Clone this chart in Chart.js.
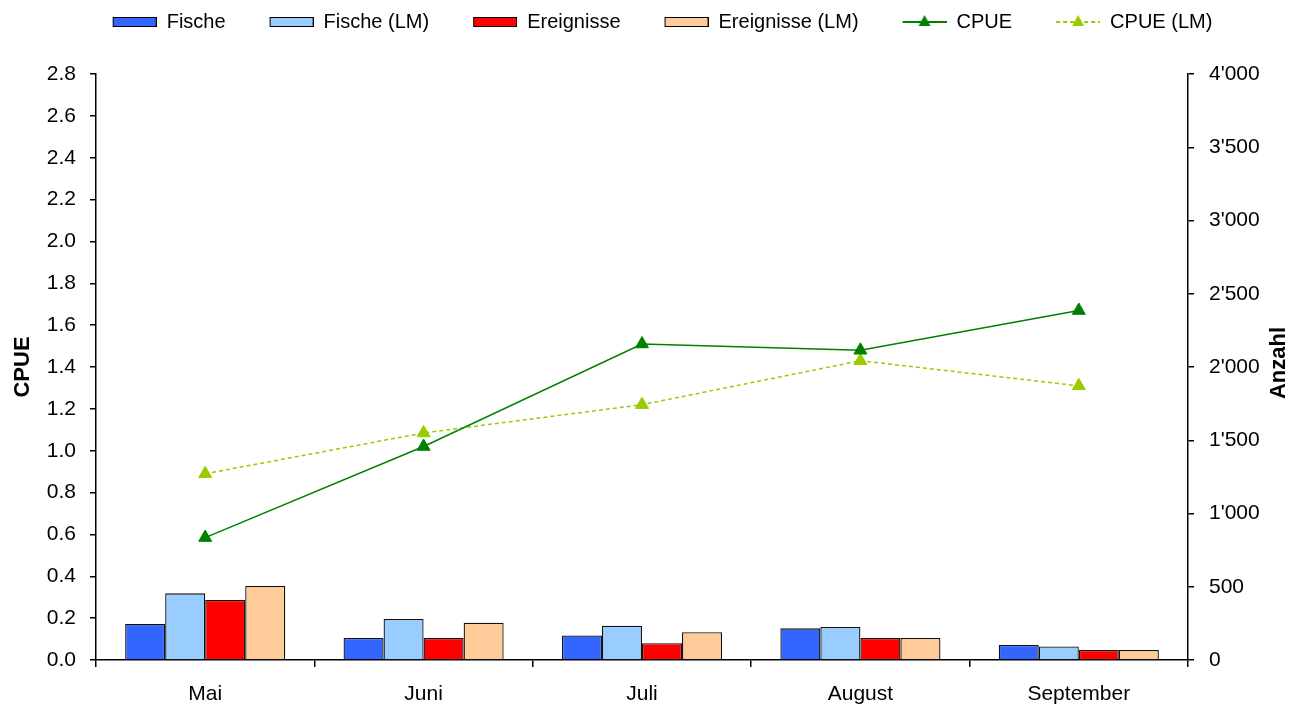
<!DOCTYPE html>
<html>
<head>
<meta charset="utf-8">
<script src="https://cdn.jsdelivr.net/npm/chart.js@4"></script>
<style>
    body { margin: 0; background: #fff; }
    #wrap { width: 1293px; height: 704px; }
</style>
</head>
<body>
<div id="wrap"><canvas id="graph1"></canvas></div>
<script>
// values
const months = ['Mai', 'Juni', 'Juli', 'August', 'September'];
const fische = [245, 150, 168, 216, 102];          // Anzahl (right axis)
const fischeLM = [455, 280, 234, 225, 93];
const ereignisse = [410, 150, 114, 150, 68];
const ereignisseLM = [505, 255, 189, 150, 68];
const cpue = [0.585, 1.02, 1.51, 1.48, 1.67];      // CPUE (left axis)
const cpueLM = [0.89, 1.085, 1.22, 1.43, 1.31];

Chart.defaults.font.family = '"Liberation Sans", Arial, sans-serif';
Chart.defaults.color = '#000';

// legend icons: 32px empty on the left acts as the gap between items
function legendIcon(draw){
    const c = document.createElement('canvas');
    c.width = 76;
    c.height = 16;
    draw(c.getContext('2d'));
    return c;
}
function boxIcon(color){
    return legendIcon(g => {
        g.fillStyle = color;
        g.fillRect(32, 3, 44, 10);
        g.strokeStyle = '#000';
        g.lineWidth = 1;
        g.strokeRect(32.5, 3.5, 43, 9);
    });
}
function lineIcon(color, dash){
    return legendIcon(g => {
        g.strokeStyle = color;
        g.lineWidth = 2;
        g.setLineDash(dash);
        g.beginPath();
        g.moveTo(32, 8);
        g.lineTo(76, 8);
        g.stroke();
        g.fillStyle = color;
        g.beginPath();
        g.moveTo(54, 1);
        g.lineTo(60, 12);
        g.lineTo(48, 12);
        g.closePath();
        g.fill();
    });
}
const icons = [
    boxIcon('#3366ff'), boxIcon('#99ccff'), boxIcon('#ff0000'), boxIcon('#ffcc99'),
    lineIcon('#008000', []), lineIcon('#99cc00', [4, 3])
];

// legend takes the top 74px
const legendHeight = {
    id: 'legendHeight',
    beforeInit(chart){
        const fit = chart.legend.fit;
        chart.legend.fit = function(){
            fit.bind(chart.legend)();
            this.height = 74;
        };
    }
};

// right axis title reads bottom-to-top like the original
const rightTitle = {
    id: 'rightTitle',
    afterDraw(chart){
        const {ctx, chartArea} = chart;
        ctx.save();
        ctx.translate(chart.scales.y1.right - 14, (chartArea.top + chartArea.bottom) / 2 - 4);
        ctx.rotate(-Math.PI / 2);
        ctx.font = 'bold 22px "Liberation Sans", Arial, sans-serif';
        ctx.fillStyle = '#000';
        ctx.textAlign = 'center';
        ctx.textBaseline = 'middle';
        ctx.fillText('Anzahl', 0, 0);
        ctx.restore();
    }
};

function barSet(label, data, color){
    return {
        type: 'bar',
        label: label,
        data: data,
        yAxisID: 'y1',
        backgroundColor: color,
        borderColor: '#111',
        borderWidth: 1.3,
        barPercentage: 1,
        categoryPercentage: 0.733
    };
}
function lineSet(label, data, color, dash){
    return {
        type: 'line',
        label: label,
        data: data,
        yAxisID: 'y',
        borderColor: color,
        backgroundColor: color,
        borderWidth: 1.5,
        borderDash: dash,
        tension: 0,
        pointStyle: 'triangle',
        pointRadius: 7.5,
        pointBorderWidth: 1,
        pointBackgroundColor: color,
        pointBorderColor: color
    };
}

const ctx = document.getElementById('graph1');
new Chart(ctx, {
    type: 'bar',
    data: {
        labels: months,
        datasets: [
            barSet('Fische', fische, '#3366ff'),
            barSet('Fische (LM)', fischeLM, '#99ccff'),
            barSet('Ereignisse', ereignisse, '#ff0000'),
            barSet('Ereignisse (LM)', ereignisseLM, '#ffcc99'),
            lineSet('CPUE', cpue, '#008000', []),
            lineSet('CPUE (LM)', cpueLM, '#99cc00', [4, 3])
        ]
    },
    options: {
        responsive: true,
        maintainAspectRatio: false,
        animation: false,
        layout: { padding: 0 },
        scales: {
            x: {
                grid: { drawOnChartArea: false, drawTicks: true, tickLength: 7, color: '#000', lineWidth: 1.5 },
                border: { display: true, color: '#000', width: 1.5 },
                ticks: { font: { size: 21 }, padding: 15 },
                afterFit(scale){ scale.height = 44; }
            },
            y: {
                position: 'left',
                min: 0,
                max: 2.8,
                grid: { drawOnChartArea: false, drawTicks: true, tickLength: 6, color: '#000', lineWidth: 1.5 },
                border: { display: true, color: '#000', width: 1.5 },
                ticks: {
                    stepSize: 0.2,
                    padding: 14,
                    font: { size: 21 },
                    callback: v => v.toFixed(1)
                },
                title: {
                    display: true,
                    text: 'CPUE',
                    font: { size: 22, weight: 'bold' },
                    padding: { top: 10, bottom: 0 }
                },
                afterFit(scale){ scale.width = 96; }
            },
            y1: {
                position: 'right',
                min: 0,
                max: 4000,
                grid: { drawOnChartArea: false, drawTicks: true, tickLength: 6, color: '#000', lineWidth: 1.5 },
                border: { display: true, color: '#000', width: 1.5 },
                ticks: {
                    stepSize: 500,
                    padding: 15,
                    font: { size: 21 },
                    callback: function(v){
                        if (v < 1000) return String(v);
                        return Math.floor(v / 1000) + "'" + String(v % 1000).padStart(3, '0');
                    }
                },
                afterFit(scale){ scale.width = 105; }
            }
        },
        plugins: {
            legend: {
                position: 'top',
                labels: {
                    usePointStyle: true,
                    pointStyleWidth: 76,
                    boxHeight: 12,
                    padding: 12,
                    color: '#000',
                    font: { size: 20 },
                    generateLabels(chart){
                        const items = Chart.defaults.plugins.legend.labels.generateLabels(chart);
                        items.forEach((item, i) => { item.pointStyle = icons[i]; });
                        return items;
                    }
                }
            },
            tooltip: { enabled: false }
        }
    },
    plugins: [legendHeight, rightTitle]
});
</script>
</body>
</html>
